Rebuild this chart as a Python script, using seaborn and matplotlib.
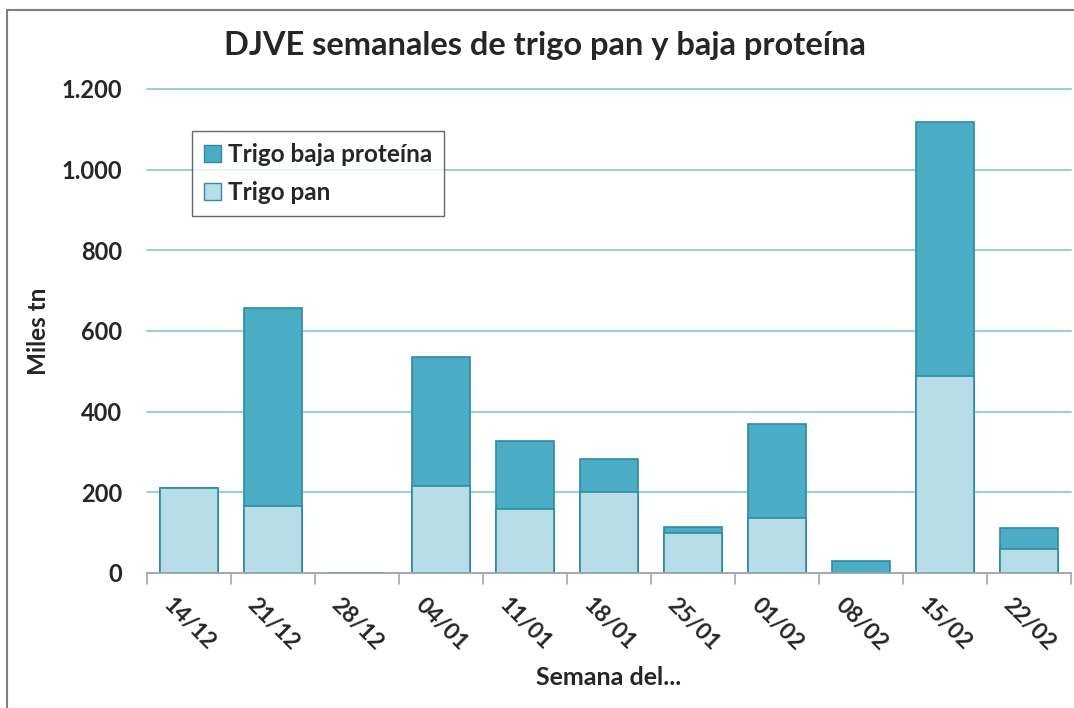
import matplotlib
matplotlib.use("Agg")
import matplotlib.pyplot as plt
import seaborn as sns
import pandas as pd
from matplotlib.patches import Patch
from matplotlib.ticker import FuncFormatter

semanas = ["14/12", "21/12", "28/12", "04/01", "11/01", "18/01",
           "25/01", "01/02", "08/02", "15/02", "22/02"]
trigo_pan = [211, 166, 0, 216, 159, 201, 99, 136, 0, 488, 60]
trigo_baja = [0, 491, 0, 320, 168, 82, 15, 233, 30, 630, 52]

df = pd.DataFrame({"semana": semanas, "pan": trigo_pan, "baja": trigo_baja})
df["total"] = df["pan"] + df["baja"]

dark = "#4BACC6"
light = "#B7DEE8"
edge = "#2E8BA3"

sns.set_style("white")
plt.rcParams["font.family"] = ["Lato", "DejaVu Sans"]
plt.rcParams["font.weight"] = "bold"

fig = plt.figure(figsize=(10.74, 7.08), dpi=100)
ax = fig.add_axes([147 / 1074, 135 / 708, 924 / 1074, 484 / 708])

sns.barplot(data=df, x="semana", y="total", color=dark, saturation=1,
            width=0.68, edgecolor=edge, linewidth=1.2, ax=ax)
sns.barplot(data=df, x="semana", y="pan", color=light, saturation=1,
            width=0.68, edgecolor=edge, linewidth=1.2, ax=ax)

ax.set_ylim(0, 1200)
ax.set_xlim(-0.5, len(semanas) - 0.5)
ax.set_yticks(range(0, 1201, 200))
ax.yaxis.set_major_formatter(FuncFormatter(lambda v, p: f"{int(v):,}".replace(",", ".")))
ax.grid(axis="y", color="#9ACFDC", linewidth=1.5)
for gl in ax.get_ygridlines():
    gl.set_clip_on(False)
ax.set_axisbelow(True)
for s in ["top", "right", "left"]:
    ax.spines[s].set_visible(False)
ax.spines["bottom"].set_color("#A6A6A6")
ax.spines["bottom"].set_linewidth(1.2)

ax.tick_params(axis="y", length=0, pad=18, labelsize=17)
ax.set_xticks(range(len(semanas)))
ax.set_xticklabels(semanas, rotation=-45, ha="center", va="top", fontsize=16.5)
ax.tick_params(axis="x", length=0, pad=15)
# marcas entre categorías
for i in range(len(semanas) + 1):
    ax.plot([i - 0.5, i - 0.5], [0, -0.022], transform=ax.get_xaxis_transform(),
            color="#A6A6A6", linewidth=1.2, clip_on=False)

ax.set_xlabel("Semana del...", fontsize=18, fontweight="bold", labelpad=9)
ax.set_ylabel("Miles tn", fontsize=17.5, fontweight="bold", labelpad=8)

fig.text(545 / 1074, 1 - 45 / 708, "DJVE semanales de trigo pan y baja proteína",
         ha="center", va="center", fontsize=23.5, fontweight="bold")

handles = [Patch(facecolor=dark, edgecolor=edge, label="Trigo baja proteína"),
           Patch(facecolor=light, edgecolor=edge, label="Trigo pan")]
leg = ax.legend(handles=handles, loc="upper left", bbox_to_anchor=(0.049, 0.913),
                fontsize=17.5, frameon=True, fancybox=False, handlelength=0.7,
                handleheight=0.7, handletextpad=0.25, borderpad=0.5,
                labelspacing=0.6, borderaxespad=0)
leg.get_frame().set_edgecolor("#404040")
leg.get_frame().set_linewidth(1.0)

# borde exterior del gráfico
fig.add_artist(plt.Line2D([7 / 1074, 7 / 1074], [0, 1 - 10 / 708],
                          transform=fig.transFigure, color="#7F7F7F", linewidth=1.5))
fig.add_artist(plt.Line2D([7 / 1074, 1], [1 - 10 / 708, 1 - 10 / 708],
                          transform=fig.transFigure, color="#7F7F7F", linewidth=1.5))

fig.savefig("out.png", dpi=100)
